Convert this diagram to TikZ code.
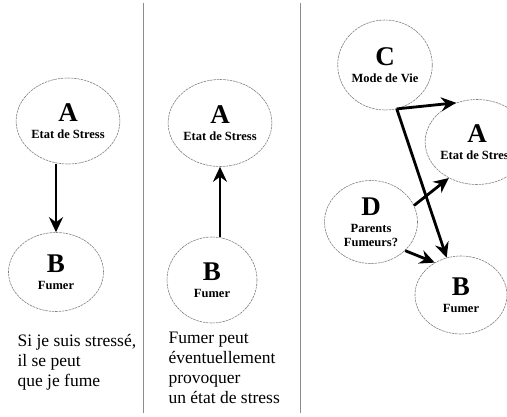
\documentclass[tikz,border=0pt]{standalone}
\usepackage{fontspec}
\setmainfont{Liberation Serif}
\usetikzlibrary{arrows.meta,shapes.geometric}

\begin{document}
\begin{tikzpicture}[x=1pt,y=-1pt,
	bulle/.style={shape=ellipse,draw=black!50,dash pattern=on 2.5pt off 0.8pt,line width=0.6pt,inner sep=0pt,minimum width=92pt,minimum height=84pt,align=center,font=\bfseries\fontsize{12.5}{14}\selectfont},
	fleche/.style={-{Stealth[length=15pt,width=14pt,inset=5pt]},line width=2.8pt},
	texte/.style={anchor=north west,align=left,font=\fontsize{17.5}{20}\selectfont}]
	
	\useasboundingbox (0,0) rectangle (507,416);
	
	\draw[black!45,line width=0.8pt] (143,3) -- (143,413);
	\draw[black!45,line width=0.8pt] (300,3) -- (300,413);
	
	\node[bulle,minimum width=92pt,minimum height=86pt] (a1) at (68,121)  {{\fontsize{27}{27}\selectfont A}\\[3pt]Etat de Stress};
	\node[bulle,minimum width=95pt,minimum height=79pt] (b1) at (56,272)  {{\fontsize{27}{27}\selectfont B}\\[3pt]Fumer};
	\node[bulle,minimum width=88pt,minimum height=87pt] (a2) at (220,123) {{\fontsize{27}{27}\selectfont A}\\[3pt]Etat de Stress};
	\node[bulle,minimum width=90pt,minimum height=86pt] (b2) at (212,280) {{\fontsize{27}{27}\selectfont B}\\[3pt]Fumer};
	\node[bulle,minimum width=94pt,minimum height=90pt] (c)  at (385,65)  {{\fontsize{27}{27}\selectfont C}\\[3pt]Mode de Vie};
	\node[bulle,minimum width=96pt,minimum height=85pt] (a3) at (477,142) {{\fontsize{27}{27}\selectfont A}\\[3pt]Etat de Stress};
	\node[bulle,minimum width=93pt,minimum height=83pt] (d)  at (371,222) {{\fontsize{27}{27}\selectfont D}\\[3pt]Parents\\Fumeurs?};
	\node[bulle,minimum width=92pt,minimum height=78pt] (b3) at (461,295) {{\fontsize{27}{27}\selectfont B}\\[3pt]Fumer};
	
	\coordinate (cs) at (c.-75);
	
	\draw[fleche] (a1.south -| b1.north) -- (b1.north);
	\draw[fleche] (b2.north -| a2.south) -- (a2.south);
	\draw[fleche] (cs) -- (a3.118);
	\draw[fleche] (cs) -- (b3.111);
	\draw[fleche] (d.21) -- (a3.232);
	\draw[fleche] (d.-40) -- (b3.129);
	
	\node[texte] (t1) at (14,331)  {Si je suis stressé,\\il se peut\\que je fume};
	\node[texte] (t2) at (165,329) {Fumer peut\\éventuellement\\provoquer\\un état de stress};
	
\end{tikzpicture}
\end{document}
